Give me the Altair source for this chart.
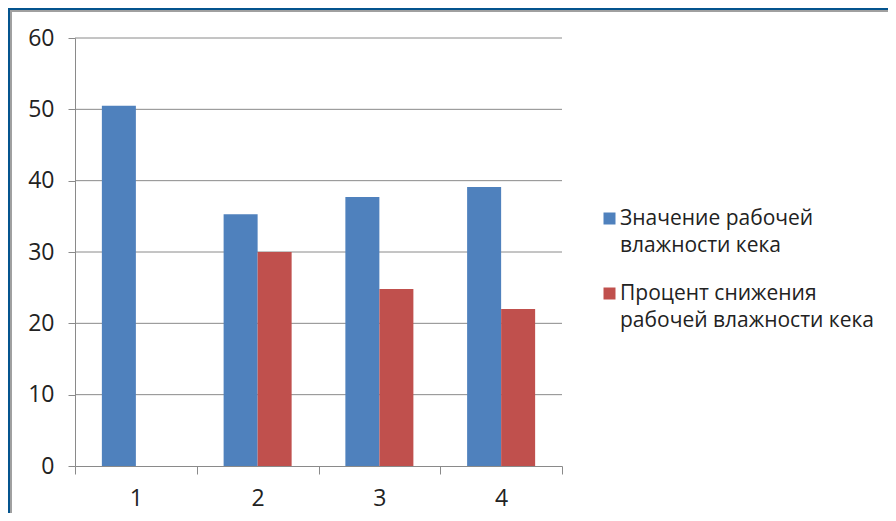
import altair as alt
import pandas as pd

categories = ["1", "2", "3", "4"]
series_names = ["Значение рабочей\nвлажности кека", "Процент снижения\nрабочей влажности кека"]
blue_values = [50.5, 35.3, 37.7, 39.1]
red_values = [None, 30.0, 24.8, 22.0]
y_ticks = [0, 10, 20, 30, 40, 50, 60]
colors = ["#4f81bd", "#c0504d"]

rows = []
for c, b, r in zip(categories, blue_values, red_values):
    if b is not None:
        rows.append({"cat": c, "series": series_names[0], "value": b})
    if r is not None:
        rows.append({"cat": c, "series": series_names[1], "value": r})
df = pd.DataFrame(rows)

W, H = 487, 428
PAD = {"left": 67, "top": 30, "right": 326, "bottom": 47}
FONT = "Open Sans"

panel = alt.Chart(pd.DataFrame({"a": [0]})).mark_rect(
    fill="white", stroke="#a0a0a0", strokeWidth=2
).encode(
    x=alt.value(-64), x2=alt.value(W + PAD["right"] + 4),
    y=alt.value(-27), y2=alt.value(H + PAD["bottom"] + 4)
)

grid = alt.Chart(pd.DataFrame({"t": y_ticks[1:]})).mark_rule(
    color="#8a8a8a", strokeWidth=1
).encode(
    y=alt.Y("t:Q", scale=alt.Scale(domain=[0, 60]))
)

bars = alt.Chart(df).mark_bar().encode(
    x=alt.X("cat:N", sort=categories, title=None,
            scale=alt.Scale(paddingInner=0, paddingOuter=0),
            axis=alt.Axis(labelAngle=0, tickBand="extent", tickSize=8,
                          tickColor="#8a8a8a", domainColor="#8a8a8a",
                          labelFontSize=23, labelFont=FONT, labelColor="#222222",
                          labelPadding=13, zindex=1)),
    xOffset=alt.XOffset("series:N", sort=series_names,
                        scale=alt.Scale(paddingInner=0, paddingOuter=0.79)),
    y=alt.Y("value:Q", title=None,
            scale=alt.Scale(domain=[0, 60]),
            axis=alt.Axis(values=y_ticks, grid=False, tickSize=7,
                          tickColor="#8a8a8a", domainColor="#8a8a8a",
                          labelFontSize=23, labelFont=FONT, labelColor="#222222",
                          labelPadding=14, zindex=1)),
    color=alt.Color("series:N", sort=series_names, title=None,
                    scale=alt.Scale(domain=series_names, range=colors),
                    legend=alt.Legend(orient="none", legendX=524, legendY=170,
                                      symbolType="square", symbolSize=144,
                                      symbolStrokeWidth=0, symbolOpacity=1,
                                      labelFontSize=21, labelFont=FONT,
                                      labelColor="#222222", labelLimit=400,
                                      labelBaseline="middle", labelOffset=0,
                                      labelExpr="split(datum.label, '\\n')",
                                      rowPadding=26, padding=0)),
)

chart = alt.layer(panel, grid, bars).properties(
    width=W, height=H,
    background="#04548e",
    autosize=alt.AutoSizeParams(type="none"),
    padding=PAD,
).configure(
    style={"guide-label": {"lineHeight": 27}}
).configure_view(stroke=None)

chart.save("out.html", embed_options={"renderer": "svg", "actions": False})
